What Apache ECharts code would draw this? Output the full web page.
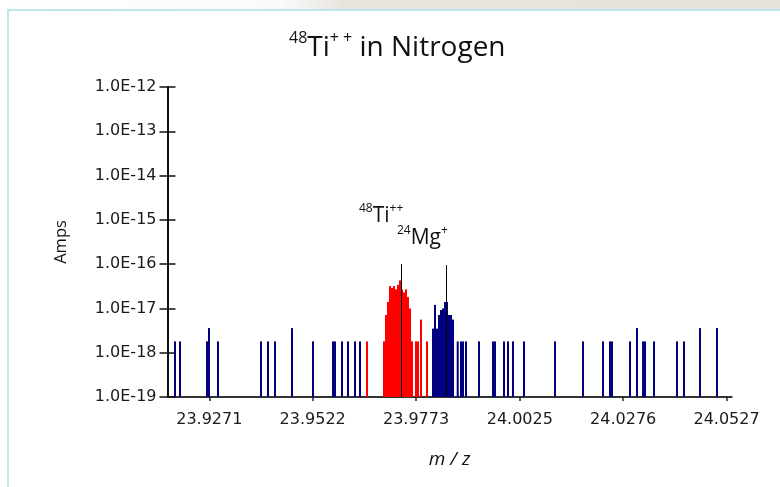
<!DOCTYPE html>
<html>
<head>
<meta charset="utf-8">
<script src="https://cdn.jsdelivr.net/npm/echarts@6/dist/echarts.min.js"></script>
<style>
html,body{margin:0;padding:0;width:780px;height:487px;overflow:hidden;background:#fff;}
#topband{position:absolute;left:0;top:0;width:780px;height:10px;background:linear-gradient(100deg,#ffffff 0%,#fafafa 36%,#e8e5df 44%,#e6e3dd 100%);}
#panel{position:absolute;left:7px;top:9px;width:800px;height:500px;border-left:2px solid #c3e4ea;border-top:2px solid #c3e4ea;background:#fff;}
#chart{position:absolute;left:0;top:0;width:780px;height:487px;}
</style>
</head>
<body>
<div id="topband"></div>
<div id="panel"></div>
<div id="chart"></div>
<script>
// ---- data ----
const xTickValues = [23.9271, 23.9522, 23.9773, 24.0025, 24.0276, 24.0527];
const xTickLabels = ['23.9271', '23.9522', '23.9773', '24.0025', '24.0276', '24.0527'];
const yTickLabels = ['1.0E-19', '1.0E-18', '1.0E-17', '1.0E-16', '1.0E-15', '1.0E-14', '1.0E-13', '1.0E-12'];

const blueMz = [
  23.91877, 23.91999, 23.92654, 23.92703, 23.92921, 23.93965, 23.94135, 23.94305,
  23.94718, 23.95228, 23.95714, 23.95762, 23.95932, 23.96078, 23.96248, 23.96369,
  23.98142, 23.98191, 23.98239, 23.98288, 23.98336, 23.98385, 23.98433, 23.98482,
  23.98531, 23.98579, 23.98628,
  23.98742, 23.98822, 23.98871, 23.98943, 23.99259, 23.99599, 23.99648, 23.99866,
  23.99963, 24.00085, 24.00352, 24.01105, 24.01785, 24.02270, 24.02440, 24.02489,
  24.02926, 24.03096, 24.03242, 24.03290, 24.03509, 24.04067, 24.04237, 24.04626,
  24.05038
];
const blueAmps = [
  1.8e-18, 1.8e-18, 1.8e-18, 3.6e-18, 1.8e-18, 1.8e-18, 1.8e-18, 1.8e-18,
  3.6e-18, 1.8e-18, 1.8e-18, 1.8e-18, 1.8e-18, 1.8e-18, 1.8e-18, 1.8e-18,
  3.5e-18, 1.2e-17, 3.5e-18, 7.1e-18, 9.2e-18, 1.0e-17, 1.4e-17, 1.4e-17,
  7.1e-18, 7.1e-18, 5.6e-18,
  1.8e-18, 1.8e-18, 1.8e-18, 1.8e-18, 1.8e-18, 1.8e-18, 1.8e-18, 1.8e-18,
  1.8e-18, 1.8e-18, 1.8e-18, 1.8e-18, 1.8e-18, 1.8e-18, 1.8e-18, 1.8e-18,
  1.8e-18, 3.6e-18, 1.8e-18, 1.8e-18, 1.8e-18, 1.8e-18, 1.8e-18, 3.6e-18,
  3.6e-18
];

const redMz = [
  23.96539,
  23.96952, 23.97001, 23.97049, 23.97098, 23.97146, 23.97195, 23.97243, 23.97292,
  23.97341, 23.97389, 23.97438, 23.97486, 23.97535, 23.97583, 23.97632,
  23.97729, 23.97778, 23.97851, 23.97996
];
const redAmps = [
  1.8e-18,
  1.8e-18, 7.1e-18, 1.4e-17, 3.2e-17, 2.9e-17, 3.2e-17, 2.7e-17, 3.4e-17,
  4.3e-17, 2.7e-17, 2.3e-17, 2.7e-17, 1.8e-17, 1.0e-17, 1.8e-18,
  1.8e-18, 1.8e-18, 5.6e-18, 1.8e-18
];

const peakMz = [23.97372, 23.98475];
const peakAmps = [1.0e-16, 9.5e-17];

// ---- chart ----
const chart = echarts.init(document.getElementById('chart'), null, {renderer: 'canvas'});
const gridLeft = 167.5, gridRight = 48.3;
const gridW = 780 - gridLeft - gridRight;

function peakLine(i) {
  return {
    silent: true, symbol: ['none', 'none'], animation: false, z: 10,
    label: {show: false},
    lineStyle: {color: '#000', width: 1, type: 'solid'},
    emphasis: {disabled: true},
    data: [[{coord: [peakMz[i], 1e-19]}, {coord: [peakMz[i], peakAmps[i]]}]]
  };
}

const option = {
  animation: false,
  backgroundColor: 'transparent',
  title: {
    text: '{s|48}{b|Ti}{s|+ +}{b| in Nitrogen}',
    left: 284, top: 25,
    textStyle: {
      fontWeight: 'normal',
      rich: {
        s: {fontFamily: 'Open Sans', fontSize: 16, fontWeight: 'normal', color: '#111', verticalAlign: 'top', lineHeight: 19},
        b: {fontFamily: 'Open Sans', fontSize: 28, fontWeight: 'normal', color: '#111', lineHeight: 36}
      }
    }
  },
  grid: {left: gridLeft, right: gridRight, top: 87, bottom: 90, containLabel: false},
  xAxis: {
    type: 'value', min: 23.91695, max: 24.05395,
    axisLine: {show: true, onZero: false, lineStyle: {color: '#333', width: 2}},
    axisTick: {show: true, customValues: xTickValues, length: 4, lineStyle: {color: '#222', width: 1.5}},
    axisLabel: {
      customValues: xTickValues, margin: 15,
      fontFamily: 'DejaVu Sans', fontSize: 16, color: '#1a1a1a',
      formatter: function (v) {
        for (let i = 0; i < xTickValues.length; i++) {
          if (Math.abs(v - xTickValues[i]) < 1e-7) return xTickLabels[i];
        }
        return '';
      }
    },
    splitLine: {show: false},
    name: 'm / z', nameLocation: 'middle', nameGap: 53,
    nameTextStyle: {fontFamily: 'Open Sans', fontStyle: 'italic', fontSize: 19, color: '#111'}
  },
  yAxis: [{
    type: 'log', logBase: 10, min: 1e-19, max: 1e-12, startValue: 1e-19,
    axisLine: {show: true, lineStyle: {color: '#111', width: 2}},
    axisTick: {show: true, length: 8, lineStyle: {color: '#111', width: 1.5}},
    axisLabel: {
      margin: 11, fontFamily: 'DejaVu Sans', fontSize: 16, color: '#1a1a1a',
      formatter: function (v) { return yTickLabels[Math.round(Math.log10(v)) + 19]; }
    },
    splitLine: {show: false},
    name: 'Amps', nameLocation: 'middle', nameGap: 98,
    nameTextStyle: {fontFamily: 'Open Sans', fontSize: 16.5, color: '#111'}
  }, {
    type: 'log', logBase: 10, min: 1e-19, max: 1e-12,
    position: 'right', offset: -gridW,
    axisLine: {show: false},
    axisTick: {show: true, length: 8, inside: false, lineStyle: {color: '#111', width: 1.5}},
    axisLabel: {show: false},
    splitLine: {show: false}
  }],
  series: [{
    type: 'bar', name: 'Ti', barWidth: 2, barGap: '-100%', silent: true,
    itemStyle: {color: '#ff0000'},
    data: redMz.map((m, i) => [m, redAmps[i]]),
    markLine: peakLine(0)
  }, {
    type: 'bar', name: 'Mg', barWidth: 2, barGap: '-100%', silent: true,
    itemStyle: {color: '#000080'},
    data: blueMz.map((m, i) => [m, blueAmps[i]]),
    markLine: peakLine(1)
  }],
  graphic: [{
    type: 'text', x: 359, y: 203, silent: true,
    style: {
      text: '{s|48}{b|Ti}{s|++}',
      rich: {
        s: {fontFamily: 'Open Sans', fontSize: 12, fill: '#111', verticalAlign: 'top', lineHeight: 14},
        b: {fontFamily: 'Open Sans', fontSize: 21, fill: '#111', lineHeight: 27}
      }
    }
  }, {
    type: 'text', x: 397, y: 225, silent: true,
    style: {
      text: '{s|24}{b|Mg}{s|+}',
      rich: {
        s: {fontFamily: 'Open Sans', fontSize: 12, fill: '#111', verticalAlign: 'top', lineHeight: 14},
        b: {fontFamily: 'Open Sans', fontSize: 21, fill: '#111', lineHeight: 27}
      }
    }
  }]
};
chart.setOption(option);
</script>
</body>
</html>
